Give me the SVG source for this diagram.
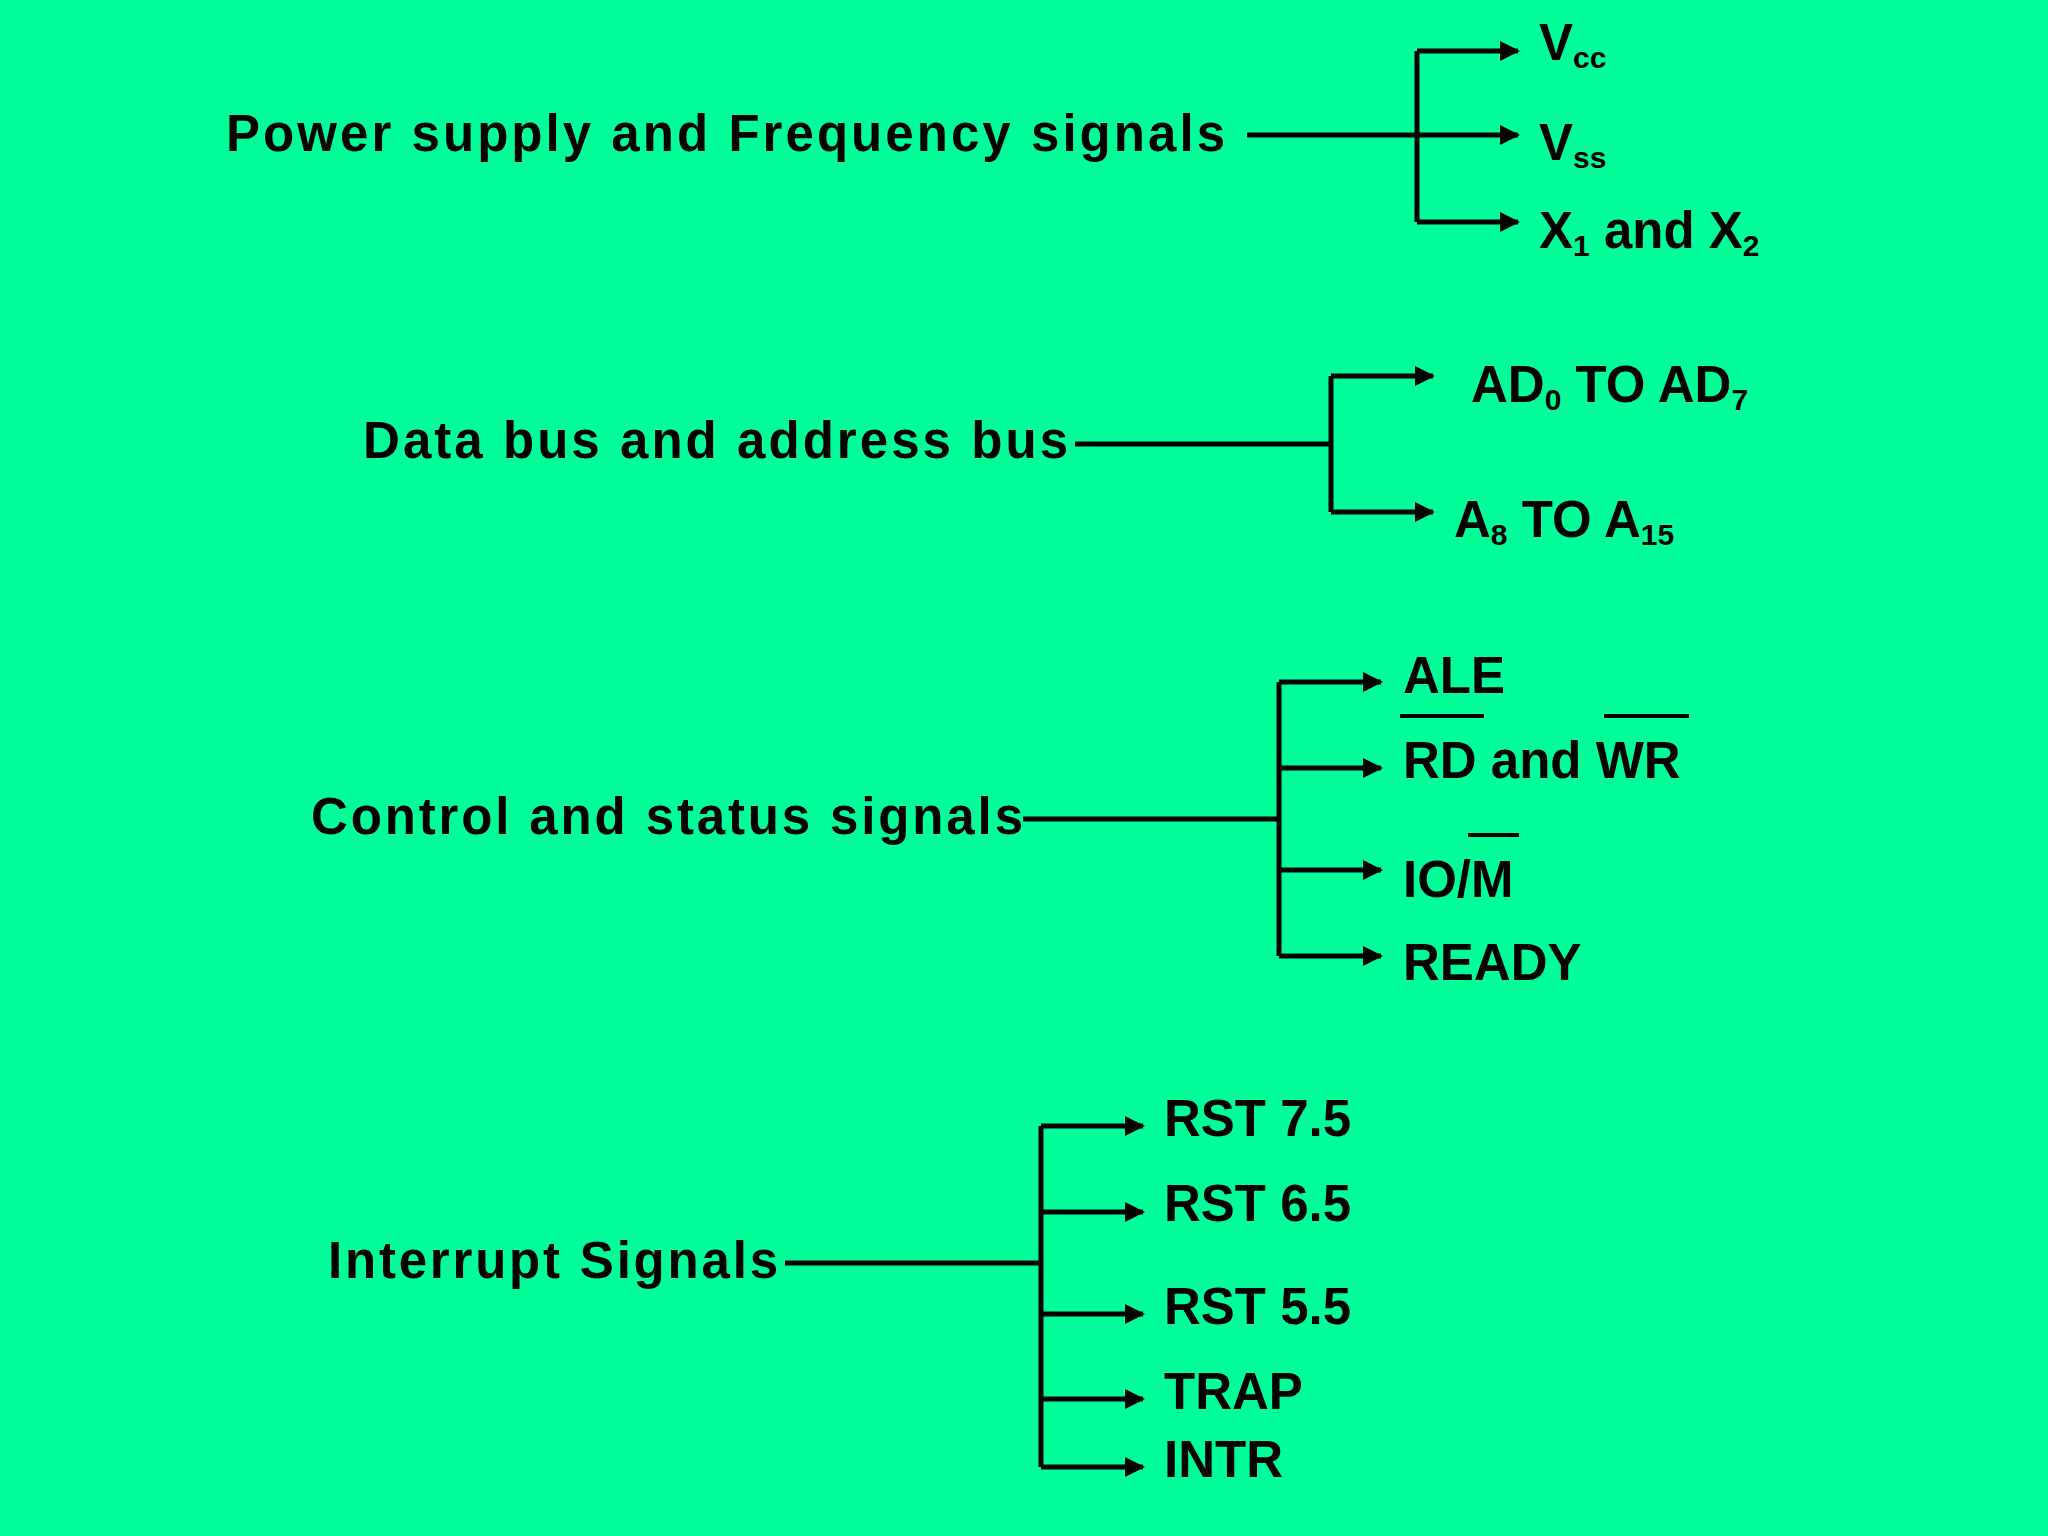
<svg xmlns="http://www.w3.org/2000/svg" width="2048" height="1536" viewBox="0 0 2048 1536">
<style>
text{font-family:"Liberation Sans",Arial,sans-serif;font-weight:bold;font-size:51px;fill:#000}
.s{font-size:30px}
.c line,.c path{stroke:#000;stroke-width:5;fill:none}
.a{marker-end:url(#ah)}
</style>
<defs><marker id="ah" viewBox="0 0 10 10" refX="9" refY="5" markerWidth="4" markerHeight="4" orient="auto" markerUnits="strokeWidth"><path d="M0,0L10,5L0,10z" fill="#000" stroke="none"/></marker></defs>
<rect width="2048" height="1536" fill="#00FF99"/>
<g id="n1"><text x="226" y="151" textLength="999">Power supply and Frequency signals</text></g>
<g id="n1a"><text x="1539" y="60">V<tspan class="s" dy="8">cc</tspan></text></g>
<g id="n1b"><text x="1539" y="160">V<tspan class="s" dy="8">ss</tspan></text></g>
<g id="n1c"><text x="1539" y="248">X<tspan class="s" dy="8">1</tspan><tspan dy="-8"> and X</tspan><tspan class="s" dy="8">2</tspan></text></g>
<g id="n2"><text x="363" y="458" textLength="705">Data bus and address bus</text></g>
<g id="n2a"><text x="1471" y="402">AD<tspan class="s" dy="8">0</tspan><tspan dy="-8">  TO AD</tspan><tspan class="s" dy="8">7</tspan></text></g>
<g id="n2b"><text x="1454" y="537">A<tspan class="s" dy="8">8</tspan><tspan dy="-8"> TO A</tspan><tspan class="s" dy="8">15</tspan></text></g>
<g id="n3"><text x="311" y="834" textLength="712">Control and status signals</text></g>
<g id="n3a"><text x="1403" y="693">ALE</text></g>
<g id="n3b"><text x="1403" y="778">RD and WR</text><line x1="1400" y1="716" x2="1484" y2="716" stroke="#000" stroke-width="4"/><line x1="1604" y1="716" x2="1689" y2="716" stroke="#000" stroke-width="4"/></g>
<g id="n3c"><text x="1403" y="897">IO/M</text><line x1="1468" y1="835" x2="1519" y2="835" stroke="#000" stroke-width="4"/></g>
<g id="n3d"><text x="1403" y="980">READY</text></g>
<g id="n4"><text x="328" y="1278" textLength="450">Interrupt Signals</text></g>
<g id="n4a"><text x="1164" y="1136">RST 7.5</text></g>
<g id="n4b"><text x="1164" y="1221">RST 6.5</text></g>
<g id="n4c"><text x="1164" y="1324">RST 5.5</text></g>
<g id="n4d"><text x="1164" y="1409">TRAP</text></g>
<g id="n4e"><text x="1164" y="1477">INTR</text></g>
<g class="c" id="connectors">
<line x1="1247" y1="135" x2="1417" y2="135"/>
<line x1="1417" y1="51" x2="1417" y2="222"/>
<line class="a" x1="1417" y1="51" x2="1518" y2="51"/>
<line class="a" x1="1417" y1="135" x2="1518" y2="135"/>
<line class="a" x1="1417" y1="222" x2="1518" y2="222"/>
<line x1="1075" y1="444" x2="1331" y2="444"/>
<line x1="1331" y1="376" x2="1331" y2="512"/>
<line class="a" x1="1331" y1="376" x2="1433" y2="376"/>
<line class="a" x1="1331" y1="512" x2="1433" y2="512"/>
<line x1="1023" y1="819" x2="1279" y2="819"/>
<line x1="1279" y1="682" x2="1279" y2="956"/>
<line class="a" x1="1279" y1="682" x2="1381" y2="682"/>
<line class="a" x1="1279" y1="768" x2="1381" y2="768"/>
<line class="a" x1="1279" y1="870" x2="1381" y2="870"/>
<line class="a" x1="1279" y1="956" x2="1381" y2="956"/>
<line x1="785" y1="1263" x2="1041" y2="1263"/>
<line x1="1041" y1="1126" x2="1041" y2="1467"/>
<line class="a" x1="1041" y1="1126" x2="1143" y2="1126"/>
<line class="a" x1="1041" y1="1212" x2="1143" y2="1212"/>
<line class="a" x1="1041" y1="1314" x2="1143" y2="1314"/>
<line class="a" x1="1041" y1="1399" x2="1143" y2="1399"/>
<line class="a" x1="1041" y1="1467" x2="1143" y2="1467"/>
</g>
</svg>
